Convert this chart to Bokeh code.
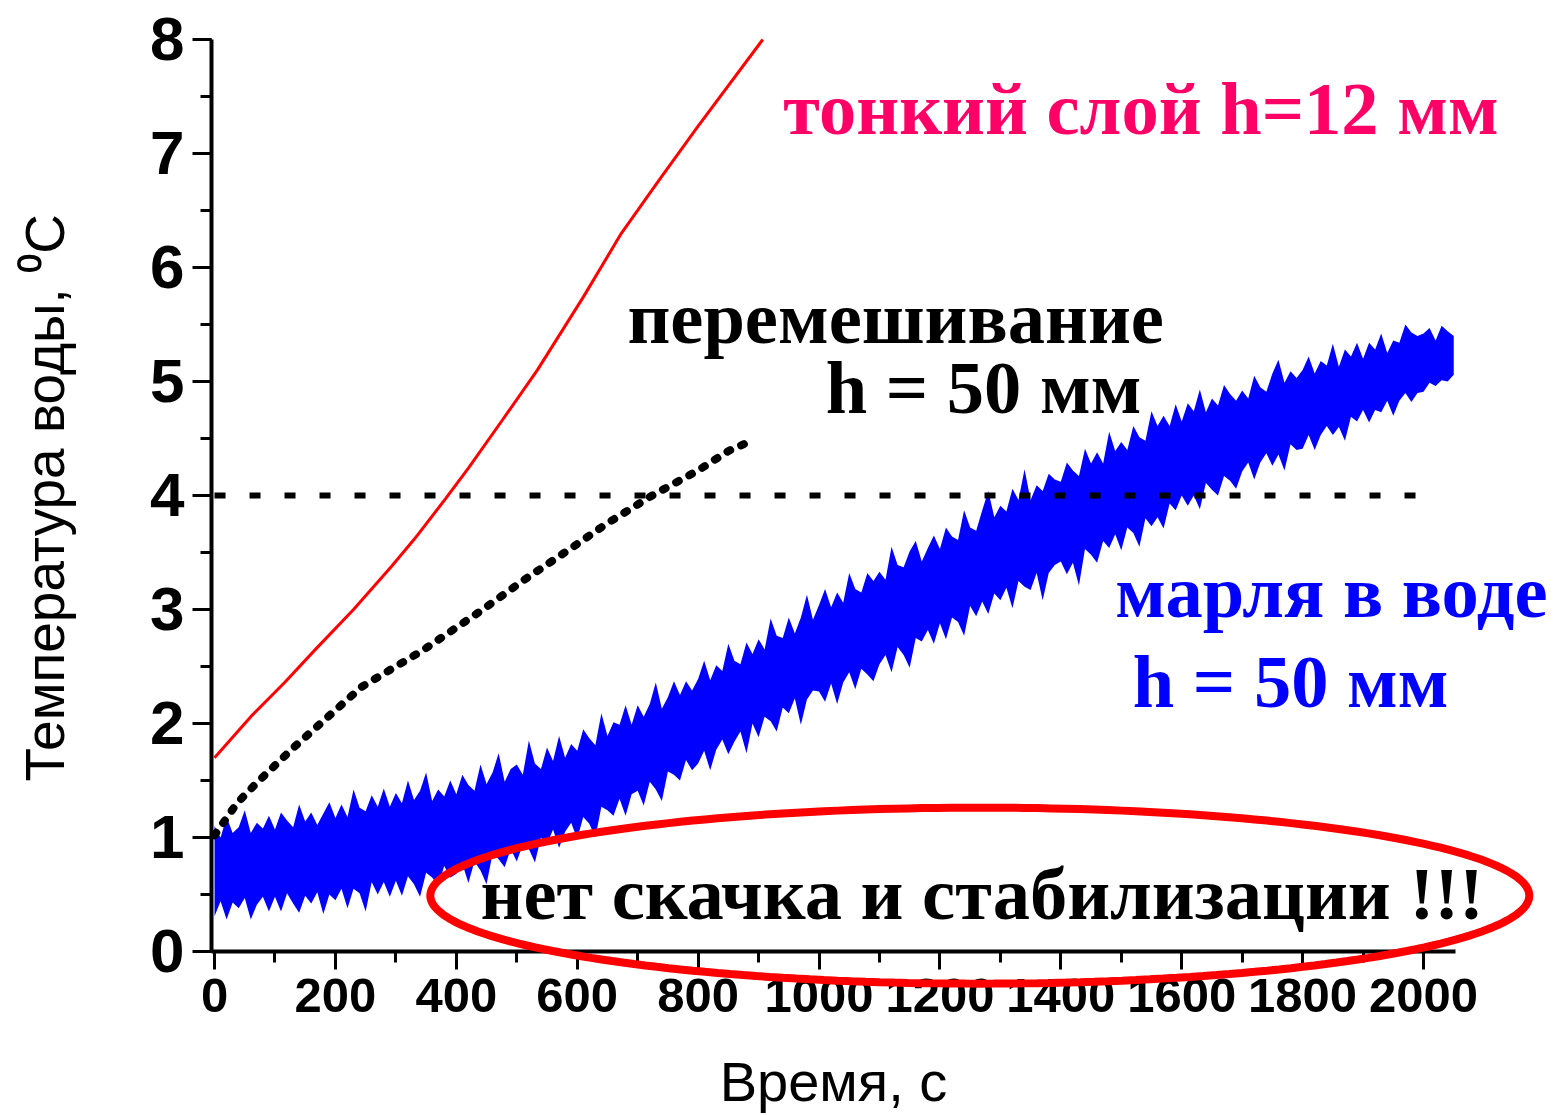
import numpy as np
from bokeh.plotting import figure
from bokeh.models import Range1d, FixedTicker, Label, PolyAnnotation
from bokeh.embed import file_html
from bokeh.resources import INLINE

# ---------------- data ----------------
# thin layer h=12 mm (red)
thin_t = [0, 60, 116, 167, 230, 293, 331, 382, 420, 476, 534, 610, 673, 736, 800, 907]
thin_T = [1.70, 2.06, 2.36, 2.65, 3.00, 3.38, 3.62, 3.97, 4.24, 4.66, 5.10, 5.74, 6.30, 6.77, 7.24, 8.00]

# mixing h=50 mm (black dotted)
mix_t = [0, 37, 70, 129, 186, 243, 344, 433, 515, 585, 648, 724, 800, 850, 892]
mix_T = [1.02, 1.30, 1.48, 1.78, 2.05, 2.32, 2.64, 2.96, 3.27, 3.52, 3.75, 4.00, 4.22, 4.39, 4.49]

# gauze in water h=50 mm (blue noisy band): time (10 s step) with upper / lower edge
gauze_t = list(range(0, 2051, 10))
gauze_hi = [
    1.10, 1.00, 1.18, 1.04, 1.09, 1.24, 1.04, 1.13, 1.08, 1.19,
    1.07, 1.22, 1.15, 1.09, 1.29, 1.14, 1.22, 1.11, 1.21, 1.31,
    1.17, 1.29, 1.18, 1.42, 1.26, 1.23, 1.37, 1.27, 1.43, 1.27,
    1.39, 1.30, 1.50, 1.33, 1.41, 1.57, 1.32, 1.42, 1.36, 1.50,
    1.38, 1.55, 1.46, 1.41, 1.64, 1.47, 1.57, 1.74, 1.49, 1.60,
    1.64, 1.55, 1.85, 1.65, 1.60, 1.79, 1.67, 1.89, 1.70, 1.82,
    1.76, 1.95, 1.87, 1.81, 2.09, 1.89, 2.01, 1.99, 2.16, 1.99,
    2.16, 2.06, 2.17, 2.36, 2.13, 2.23, 2.37, 2.25, 2.37, 2.29,
    2.39, 2.55, 2.38, 2.51, 2.46, 2.70, 2.55, 2.52, 2.71, 2.61,
    2.74, 2.65, 2.92, 2.77, 2.75, 2.93, 2.79, 2.93, 3.13, 2.91,
    3.04, 3.18, 3.02, 3.15, 3.06, 3.32, 3.18, 3.15, 3.32, 3.25,
    3.33, 3.26, 3.55, 3.39, 3.37, 3.51, 3.60, 3.42, 3.54, 3.65,
    3.53, 3.72, 3.64, 3.61, 3.87, 3.72, 3.69, 3.87, 4.04, 3.81,
    3.91, 3.86, 4.06, 3.96, 4.23, 3.96, 4.09, 4.04, 4.19, 4.14,
    4.12, 4.29, 4.22, 4.17, 4.41, 4.28, 4.38, 4.28, 4.56, 4.39,
    4.47, 4.40, 4.61, 4.51, 4.48, 4.74, 4.61, 4.70, 4.61, 4.80,
    4.65, 4.81, 4.74, 4.93, 4.73, 4.85, 4.79, 4.97, 4.89, 4.83,
    4.92, 4.85, 5.05, 4.95, 4.91, 5.07, 5.19, 4.99, 5.09, 5.03,
    5.10, 5.22, 5.07, 5.18, 5.14, 5.33, 5.13, 5.28, 5.22, 5.34,
    5.20, 5.34, 5.28, 5.42, 5.25, 5.36, 5.34, 5.50, 5.43, 5.40,
    5.42, 5.47, 5.36, 5.49, 5.44, 5.40]
gauze_lo = [
    .31, .44, .28, .43, .38, .47, .28, .41, .48, .35,
    .48, .35, .51, .42, .34, .49, .42, .52, .33, .50,
    .45, .55, .38, .55, .51, .35, .61, .50, .61, .48,
    .62, .49, .66, .59, .48, .69, .65, .58, .75, .65,
    .68, .77, .60, .79, .71, .59, .86, .81, .74, .90,
    .79, .94, .90, .78, 1.00, .94, 1.07, .91, 1.05, 1.13,
    .99, 1.18, 1.12, 1.00, 1.27, 1.24, 1.19, 1.34, 1.19, 1.38,
    1.41, 1.28, 1.49, 1.42, 1.32, 1.58, 1.55, 1.50, 1.68, 1.59,
    1.65, 1.76, 1.59, 1.77, 1.86, 1.73, 1.84, 1.93, 1.74, 2.00,
    1.88, 2.06, 2.02, 1.93, 2.14, 2.09, 2.22, 1.99, 2.21, 2.29,
    2.28, 2.19, 2.35, 2.17, 2.36, 2.45, 2.30, 2.48, 2.43, 2.37,
    2.52, 2.60, 2.45, 2.67, 2.60, 2.49, 2.75, 2.72, 2.82, 2.70,
    2.88, 2.74, 2.93, 2.89, 2.77, 3.03, 2.94, 3.07, 2.96, 3.14,
    3.08, 3.19, 3.01, 3.25, 3.20, 3.17, 3.32, 3.08, 3.32, 3.39,
    3.42, 3.31, 3.41, 3.21, 3.53, 3.48, 3.41, 3.60, 3.54, 3.66,
    3.52, 3.72, 3.67, 3.55, 3.80, 3.73, 3.81, 3.71, 3.93, 3.87,
    4.00, 3.91, 4.00, 3.88, 4.11, 4.05, 4.00, 4.17, 4.13, 4.06,
    4.21, 4.29, 4.14, 4.29, 4.37, 4.26, 4.36, 4.22, 4.45, 4.40,
    4.41, 4.53, 4.40, 4.53, 4.61, 4.53, 4.60, 4.48, 4.69, 4.65,
    4.75, 4.64, 4.75, 4.73, 4.83, 4.70, 4.83, 4.90, 4.82, 4.90,
    4.91, 4.99, 4.96, 5.01, 5.00, 5.06]

# reference level 4 °C
ref_T = 4.0
ref_t = [0, 2015]

x_ticks = list(range(0, 2001, 200))
x_minor = list(range(0, 2001, 100))
y_ticks = list(range(0, 9))
y_minor = [k * 0.5 for k in range(0, 17)]

# highlight ellipse (data units)
ell_cx, ell_cy, ell_rx, ell_ry = 1266, 0.49, 909, 0.772

# ---------------- figure ----------------
p = figure(width=1556, height=1115, output_backend="svg", toolbar_location=None,
           x_range=Range1d(-354.05, 2220), y_range=Range1d(-1.4386, 8.342),
           min_border_left=0, min_border_right=0, min_border_top=0, min_border_bottom=0)
p.outline_line_color = None
p.grid.visible = False
p.background_fill_color = "white"
p.border_fill_color = "white"

for ax in (p.xaxis[0], p.yaxis[0]):
    ax.axis_line_width = 4
    ax.axis_line_color = "black"
    ax.major_tick_in = 0
    ax.minor_tick_in = 0
    ax.major_tick_line_width = 3
    ax.minor_tick_line_width = 3
    ax.major_tick_line_color = "black"
    ax.minor_tick_line_color = "black"
    ax.major_label_text_font = "Liberation Sans"
    ax.major_label_text_font_style = "bold"
    ax.major_label_text_color = "black"
    ax.axis_label_text_font = "Liberation Sans"
    ax.axis_label_text_font_style = "normal"
    ax.axis_label_text_color = "black"

p.xaxis.fixed_location = 0
p.yaxis.fixed_location = -5
p.xaxis.bounds = (-5, 2053)
p.yaxis.bounds = (0, 8)
p.xaxis.ticker = FixedTicker(ticks=x_ticks, minor_ticks=x_minor)
p.yaxis.ticker = FixedTicker(ticks=y_ticks, minor_ticks=y_minor)
p.xaxis.major_tick_out = 18
p.xaxis.minor_tick_out = 11
p.yaxis.major_tick_out = 19
p.yaxis.minor_tick_out = 11
p.xaxis.major_label_text_font_size = "49px"
p.yaxis.major_label_text_font_size = "62px"
p.xaxis.major_label_standoff = 10
p.yaxis.major_label_standoff = 8
p.xaxis.axis_label = "Время, с"
p.xaxis.axis_label_text_font_size = "56px"
p.xaxis.axis_label_standoff = 34

# y axis title (placed as a rotated label next to the axis)
p.add_layout(Label(x=-281, y=3.98, text="Температура воды, \u2070C", angle=90, angle_units="deg",
                   text_font="Liberation Sans", text_font_size="55px", text_color="black",
                   text_align="center", text_baseline="middle"))

# gauze band
p.varea(x=gauze_t, y1=gauze_lo, y2=gauze_hi, fill_color="#0000FF", fill_alpha=1.0)

# reference dashed line
p.line(x=ref_t, y=[ref_T, ref_T], line_color="black", line_width=6, line_dash="11 24")

# mixing (dotted)
p.line(x=mix_t, y=mix_T, line_color="black", line_width=8, line_dash="3 12", line_cap="round")

# thin layer
p.line(x=thin_t, y=thin_T, line_color="#FF0000", line_width=3)

# ellipse highlight
theta = np.linspace(0, 2 * np.pi, 241)
ell = PolyAnnotation(xs=list(ell_cx + ell_rx * np.cos(theta)), ys=list(ell_cy + ell_ry * np.sin(theta)),
                     fill_alpha=0, line_color="#FF0000", line_alpha=1.0, line_width=8)
p.add_layout(ell)

labels = [
    ("тонкий слой h=12 мм", 941, 7.39, "#FF0066"),
    ("перемешивание", 683, 5.56, "black"),
    ("h = 50 мм", 1011, 4.94, "black"),
    ("марля в воде", 1490, 3.15, "#0000FF"),
    ("h = 50 мм", 1519, 2.36, "#0000FF"),
    ("нет скачка и стабилизации !!!", 440, 0.50, "black"),
]
for txt, lx, ly, col in labels:
    p.add_layout(Label(x=lx, y=ly, text=txt, text_color=col, text_font="Liberation Serif",
                       text_font_style="bold", text_font_size="74.5px",
                       text_align="left", text_baseline="alphabetic"))

open("out.html", "w").write(file_html(p, INLINE))
